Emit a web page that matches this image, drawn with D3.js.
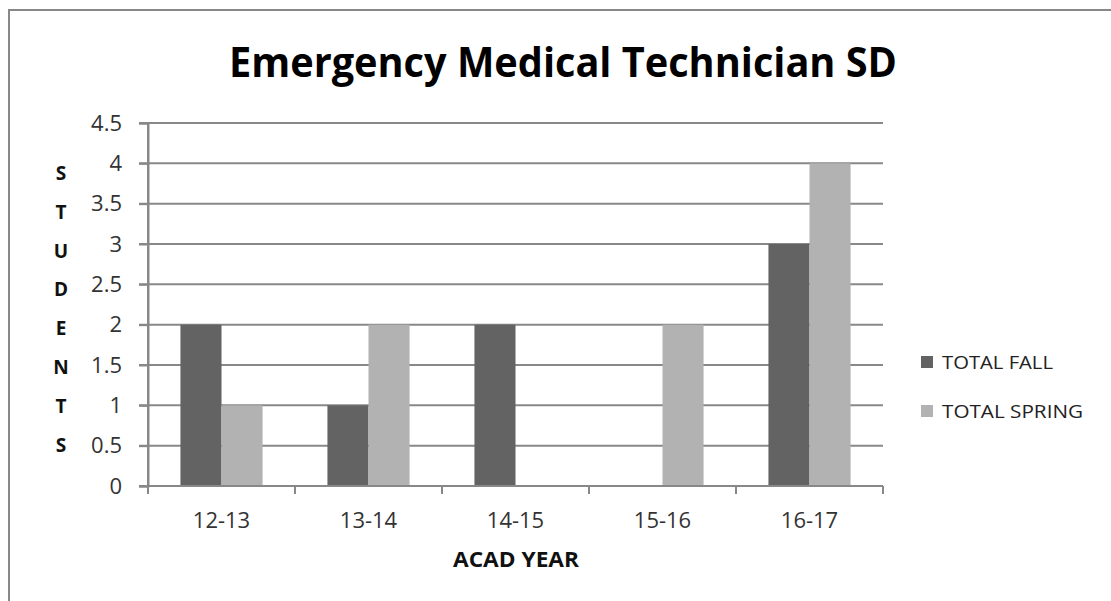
<!DOCTYPE html>
<html><head><meta charset="utf-8">
<script src="https://cdn.jsdelivr.net/npm/d3@7"></script>
<style>body{margin:0;background:#fff;} svg{display:block;}</style>
</head><body>
<script>
const categories = ["12-13","13-14","14-15","15-16","16-17"];
const seriesNames = ["TOTAL FALL","TOTAL SPRING"];
const totalFall = [2,1,2,0,3];
const totalSpring = [1,2,0,2,4];
const yTicks = [0,0.5,1,1.5,2,2.5,3,3.5,4,4.5];
const colors = ["#636363","#b2b2b2"];
const title = "Emergency Medical Technician SD";
const yTitle = "STUDENTS";
const xTitle = "ACAD YEAR";

const W=1111,H=601;
const svg=d3.select("body").append("svg").attr("width",W).attr("height",H);
svg.append("rect").attr("x",9).attr("y",10).attr("width",W+20).attr("height",H+20)
  .attr("fill","#fff").attr("stroke","#888").attr("stroke-width",2);

const L=148,R=883,T=123,B=486;
const x=d3.scaleBand().domain(categories).range([L,R]).paddingInner(0).paddingOuter(0);
const inner=d3.scaleBand().domain(seriesNames).range([0,x.bandwidth()]).paddingInner(0).paddingOuter(0.79);
const y=d3.scaleLinear().domain([0,4.5]).range([B,T]);
const font="'Open Sans', 'Liberation Sans', sans-serif";

// gridlines
svg.append("g").selectAll("line").data(yTicks).join("line")
  .attr("x1",L-9).attr("x2",R).attr("y1",d=>y(d)).attr("y2",d=>y(d))
  .attr("stroke","#888").attr("stroke-width",2);

// y axis
const yAxis=svg.append("g").attr("transform",`translate(${L},0)`)
  .call(d3.axisLeft(y).tickValues(yTicks).tickFormat(d=>String(d)).tickSize(9).tickPadding(17));
yAxis.select(".domain").attr("stroke","#888").attr("stroke-width",2);
yAxis.selectAll(".tick line").attr("stroke","#888").attr("stroke-width",2);
yAxis.selectAll("text").attr("font-family",font).attr("font-size",22).attr("fill","#333");

// bars
const data=categories.map((c,i)=>({c,vals:[totalFall[i],totalSpring[i]]}));
const g=svg.append("g").selectAll("g").data(data).join("g").attr("transform",d=>`translate(${x(d.c)},0)`);
g.selectAll("rect").data(d=>d.vals.map((v,k)=>({k,v,s:seriesNames[k]}))).join("rect")
  .attr("x",d=>inner(d.s)).attr("width",inner.bandwidth())
  .attr("y",d=>y(d.v)).attr("height",d=>B-y(d.v)).attr("fill",d=>colors[d.k]);

// x axis
svg.append("line").attr("x1",L-9).attr("x2",R).attr("y1",B).attr("y2",B).attr("stroke","#888").attr("stroke-width",2);
const bounds=categories.map(c=>x(c)).concat([R]);
svg.append("g").selectAll("line").data(bounds).join("line")
  .attr("x1",d=>d).attr("x2",d=>d).attr("y1",B).attr("y2",B+8).attr("stroke","#888").attr("stroke-width",2);
svg.append("line").attr("x1",L).attr("x2",L).attr("y1",T).attr("y2",B+8).attr("stroke","#888").attr("stroke-width",2);
svg.append("g").selectAll("text").data(categories).join("text")
  .attr("x",d=>x(d)+x.bandwidth()/2).attr("y",528).attr("text-anchor","middle")
  .attr("font-family",font).attr("font-size",22).attr("fill","#333").text(d=>d);

// titles
svg.append("text").attr("x",563).attr("y",77).attr("text-anchor","middle")
  .attr("font-family",font).attr("font-weight","bold").attr("font-size",42).attr("fill","#000")
  .attr("textLength",668).attr("lengthAdjust","spacingAndGlyphs").text(title);

svg.append("text").attr("x",516).attr("y",567).attr("text-anchor","middle")
  .attr("font-family",font).attr("font-weight","bold").attr("font-size",21).attr("fill","#111")
  .attr("textLength",126).attr("lengthAdjust","spacingAndGlyphs").text(xTitle);

const letters=yTitle.split("");
svg.append("g").selectAll("text").data(letters).join("text")
  .attr("x",61).attr("y",(d,i)=>180+i*38.8).attr("text-anchor","middle")
  .attr("font-family",font).attr("font-weight","bold").attr("font-size",19).attr("fill","#111").text(d=>d);

// legend
const legendWidths=[111,141];
const lg=svg.append("g").selectAll("g").data(seriesNames).join("g")
  .attr("transform",(d,i)=>`translate(921,${362+i*49})`);
lg.append("rect").attr("x",0).attr("y",-6).attr("width",12).attr("height",12).attr("fill",(d,i)=>colors[i]);
lg.append("text").attr("x",21).attr("y",7).attr("font-family",font).attr("font-size",19).attr("fill","#222")
  .attr("textLength",(d,i)=>legendWidths[i]).attr("lengthAdjust","spacingAndGlyphs").text(d=>d);
</script>
</body></html>
